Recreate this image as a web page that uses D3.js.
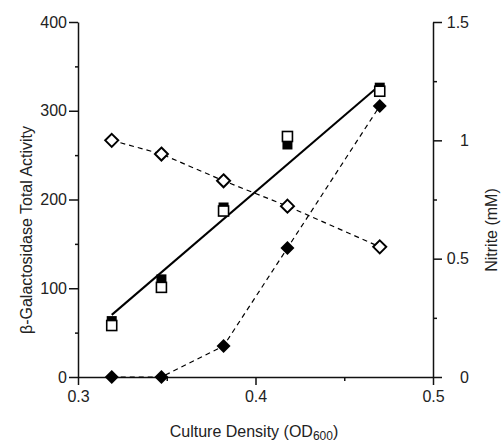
<!DOCTYPE html>
<html>
<head>
<meta charset="utf-8">
<script src="https://cdn.jsdelivr.net/npm/d3@7"></script>
<style>
body { margin: 0; background: #fff; }
text { font-family: "Liberation Sans", Arial, sans-serif; fill: #222; }
</style>
</head>
<body>
<script>
var width = 501;
var height = 446;

// culture density (OD600) of each sample
var density = [0.319, 0.347, 0.382, 0.418, 0.470];
// beta-galactosidase total activity, two replicates
var galFilled = [63, 110, 191, 262, 326];
var galOpen = [58, 101, 187, 271, 322];
// nitrite (mM)
var nitriteOpen = [1.0, 0.942, 0.829, 0.722, 0.55];
var nitriteFilled = [0, 0, 0.131, 0.545, 1.145];
// fitted line through activity
var fitX = [0.319, 0.469];
var fitY = [70, 327];

var xTicks = [0.3, 0.4, 0.5];
var xMinor = [0.35, 0.45];
var leftTicks = [0, 100, 200, 300, 400];
var leftMinor = [50, 150, 250, 350];
var rightTicks = [0, 0.5, 1, 1.5];
var rightMinor = [0.25, 0.75, 1.25];

var x = d3.scaleLinear().domain([0.3, 0.5]).range([78, 433]);
var yL = d3.scaleLinear().domain([0, 400]).range([377, 22]);
var yR = d3.scaleLinear().domain([0, 1.5]).range([377, 22]);

var svg = d3.select("body").append("svg")
  .attr("width", width)
  .attr("height", height);

function styleAxis(g) {
  g.selectAll("path").attr("stroke", "#111").attr("stroke-width", 1.5);
  g.selectAll("line").attr("stroke", "#111").attr("stroke-width", 1.5);
  g.selectAll("text").attr("font-size", 16).attr("fill", "#222")
    .attr("font-family", "Liberation Sans, Arial, sans-serif");
}

// x axis
var gx = svg.append("g").attr("transform", "translate(0," + yL(0) + ")");
gx.call(d3.axisBottom(x).tickValues(xTicks).tickSize(8).tickSizeOuter(0).tickPadding(6)
  .tickFormat(d3.format(".1f")));
gx.append("g").call(d3.axisBottom(x).tickValues(xMinor).tickSize(4).tickFormat(""))
  .select(".domain").remove();
styleAxis(gx);

// left axis
var gl = svg.append("g").attr("transform", "translate(" + x(0.3) + ",0)");
gl.call(d3.axisLeft(yL).tickValues(leftTicks).tickSize(9).tickSizeOuter(0).tickPadding(2));
gl.append("g").call(d3.axisLeft(yL).tickValues(leftMinor).tickSize(3).tickFormat(""))
  .select(".domain").remove();
styleAxis(gl);

// right axis
var gr = svg.append("g").attr("transform", "translate(" + x(0.5) + ",0)");
gr.call(d3.axisRight(yR).tickValues(rightTicks).tickSize(9).tickSizeOuter(0).tickPadding(10)
  .tickFormat(function(d){ return d === 0 || d === 1 ? String(d) : d3.format(".1f")(d); }));
gr.append("g").call(d3.axisRight(yR).tickValues(rightMinor).tickSize(4).tickFormat(""))
  .select(".domain").remove();
styleAxis(gr);
gr.selectAll(".tick text").attr("text-anchor", "end").attr("x", 36);

// axis titles
svg.append("text")
  .attr("transform", "translate(32," + 230 + ") rotate(-90)")
  .attr("text-anchor", "middle")
  .attr("font-size", 16)
  .text("β-Galactosidase Total Activity");

svg.append("text")
  .attr("transform", "translate(497," + 230 + ") rotate(-90)")
  .attr("text-anchor", "middle")
  .attr("font-size", 16)
  .text("Nitrite (mM)");

var xt = svg.append("text")
  .attr("x", 254)
  .attr("y", 437)
  .attr("text-anchor", "middle")
  .attr("font-size", 16);
xt.append("tspan").text("Culture Density (OD");
xt.append("tspan").attr("font-size", 12).attr("dy", 3).text("600");
xt.append("tspan").attr("dy", -3).text(")");

// fitted solid line
var fit = fitX.map(function(d, i){ return [d, fitY[i]]; });
svg.append("path")
  .datum(fit)
  .attr("fill", "none")
  .attr("stroke", "#000")
  .attr("stroke-width", 2)
  .attr("d", d3.line().x(function(d){ return x(d[0]); }).y(function(d){ return yL(d[1]); }));

// dashed nitrite lines
var lineR = d3.line().x(function(d, i){ return x(density[i]); }).y(function(d){ return yR(d); });
svg.append("path").datum(nitriteOpen)
  .attr("fill", "none").attr("stroke", "#000").attr("stroke-width", 1.2)
  .attr("stroke-dasharray", "5,4").attr("d", lineR);
svg.append("path").datum(nitriteFilled)
  .attr("fill", "none").attr("stroke", "#000").attr("stroke-width", 1.2)
  .attr("stroke-dasharray", "5,4").attr("d", lineR);

// squares
var sq = 10;
svg.selectAll(".sqf").data(galFilled).enter().append("rect")
  .attr("x", function(d, i){ return x(density[i]) - sq/2; })
  .attr("y", function(d){ return yL(d) - sq/2; })
  .attr("width", sq).attr("height", sq)
  .attr("fill", "#000");
svg.selectAll(".sqo").data(galOpen).enter().append("rect")
  .attr("x", function(d, i){ return x(density[i]) - sq/2; })
  .attr("y", function(d){ return yL(d) - sq/2; })
  .attr("width", sq).attr("height", sq)
  .attr("fill", "#fff").attr("stroke", "#000").attr("stroke-width", 1.6);

// diamonds
var diamond = function(r){ return "M0," + (-r) + "L" + r + ",0L0," + r + "L" + (-r) + ",0Z"; };
svg.selectAll(".dmf").data(nitriteFilled).enter().append("path")
  .attr("transform", function(d, i){ return "translate(" + x(density[i]) + "," + yR(d) + ")"; })
  .attr("d", diamond(7))
  .attr("fill", "#000");
svg.selectAll(".dmo").data(nitriteOpen).enter().append("path")
  .attr("transform", function(d, i){ return "translate(" + x(density[i]) + "," + yR(d) + ")"; })
  .attr("d", diamond(6.5))
  .attr("fill", "#fff").attr("stroke", "#000").attr("stroke-width", 2);
</script>
</body>
</html>
